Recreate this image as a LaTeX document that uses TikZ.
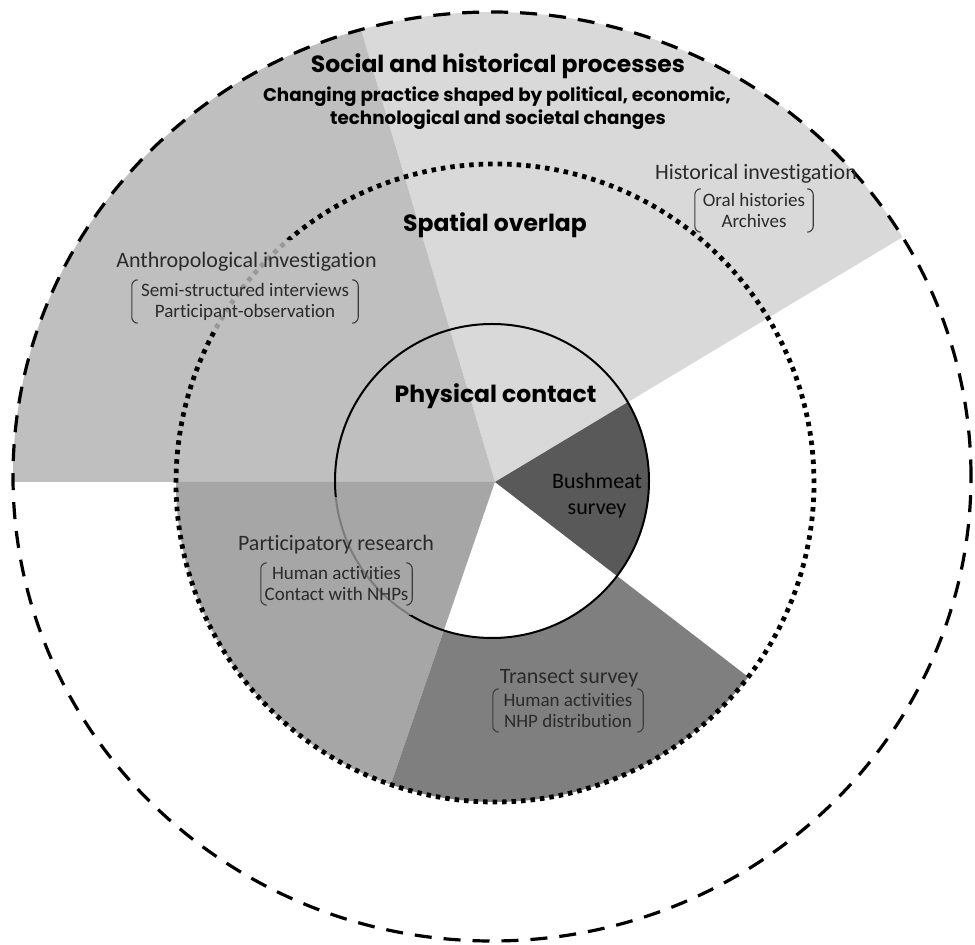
\documentclass[tikz,border=0pt]{standalone}
\usepackage{fontspec}
\setmainfont{Carlito}[Ligatures=NoCommon]
\newfontfamily\headfont{Poppins}
\definecolor{histc}{HTML}{D9D9D9}
\definecolor{anthc}{HTML}{BFBFBF}
\definecolor{partc}{HTML}{A6A6A6}
\definecolor{transc}{HTML}{7F7F7F}
\definecolor{bushc}{HTML}{595959}
\definecolor{labc}{HTML}{2A2A2A}
\definecolor{brkc}{HTML}{3C3C3C}
\newcommand\drawbrackets[1]{%
  \draw[brkline] ([xshift=6pt]#1.north west) to[out=180,in=90] ([yshift=-6pt]#1.north west)
     -- ([yshift=6pt]#1.south west) to[out=-90,in=180] ([xshift=6pt]#1.south west);
  \draw[brkline] ([xshift=-6pt]#1.north east) to[out=0,in=90] ([yshift=-6pt]#1.north east)
     -- ([yshift=6pt]#1.south east) to[out=-90,in=0] ([xshift=-6pt]#1.south east);}
\tikzset{
  headtxt/.style={font=\headfont\bfseries\fontsize{23.5}{28}\selectfont, text=black, inner sep=0pt},
  subtxt/.style={font=\headfont\bfseries\fontsize{18.3}{22}\selectfont, text=black, inner sep=0pt},
  labtxt/.style={font=\fontsize{22}{26}\selectfont, text=labc, inner sep=0pt},
  grptxt/.style={font=\fontsize{19}{21}\selectfont, text=labc, inner sep=0pt, align=center},
  brkline/.style={draw=brkc, line width=1.1pt},
  dotline/.style={draw=black, line width=4.8pt, dash pattern=on 4.5pt off 5pt},
  dashline/.style={draw=black, line width=3.2pt, dash pattern=on 17pt off 12pt},
  solidline/.style={draw=black, line width=2pt}
}
\begin{document}
\begin{tikzpicture}[x=1pt,y=1pt]
\useasboundingbox (0,0) rectangle (975,945);
\coordinate (C) at (495,463);
\coordinate (Ci) at (492,464);
\coordinate (Cd) at (495,462);
\coordinate (Co) at (492,468.5);
% outer wedges
\begin{scope}
  \clip (Co) ellipse [x radius=479, y radius=464.5];
  \fill[histc] (C) -- ++(31:900) arc[start angle=31, end angle=106.5, radius=900] -- cycle;
  \fill[anthc] (C) -- ++(106.5:900) arc[start angle=106.5, end angle=180, radius=900] -- cycle;
\end{scope}
% middle ring wedges
\begin{scope}
  \clip (Cd) circle [radius=319];
  \fill[partc] (C) -- ++(180:500) arc[start angle=180, end angle=251, radius=500] -- cycle;
  \fill[transc] (C) -- ++(251:500) arc[start angle=251, end angle=322.4, radius=500] -- cycle;
\end{scope}
% inner wedges
\begin{scope}
  \clip (Ci) circle [radius=157];
  \fill[white] (C) -- ++(251:300) arc[start angle=251, end angle=322.4, radius=300] -- cycle;
  \fill[bushc] (C) -- ++(-37.6:300) arc[start angle=-37.6, end angle=31, radius=300] -- cycle;
\end{scope}
% circles
\draw[dotline] (Cd) circle [radius=319];
\draw[solidline] (Ci) circle [radius=157];
\draw[dashline] (Co) ellipse [x radius=479, y radius=464.5];
% translucent label backgrounds
\fill[anthc, fill opacity=0.8] (113,615) rectangle (385,705);
\fill[partc, fill opacity=0.75] (228,330) rectangle (445,448);
% texts
\node[headtxt, anchor=base] (t1) at (498,872) {Social and historical processes};
\node[subtxt, anchor=base] (t2) at (497,843.3) {Changing practice shaped by political, economic,};
\node[subtxt, anchor=base] (t3) at (498,820) {technological and societal changes};
\node[headtxt, anchor=base] (so) at (495,713) {Spatial overlap};
\node[headtxt, anchor=base] (pc) at (495.5,542) {Physical contact};
\node[labtxt, anchor=base] (hi) at (756,765) {Historical investigation};
\node[grptxt, minimum width=118pt, minimum height=43pt] (hig) at (754,734.5) {Oral histories\\Archives};
\node[labtxt, anchor=base] (ai) at (246.5,677.7) {Anthropological investigation};
\node[grptxt, minimum width=226pt, minimum height=43pt] (aig) at (245,643.5) {Semi-structured interviews\\Participant-observation};
\node[labtxt, align=center, text=black] (bm) at (597,449) {Bushmeat\\survey};
\node[labtxt, anchor=base] (pr) at (336,394.3) {Participatory research};
\node[grptxt, minimum width=151pt, minimum height=42pt] (prg) at (336.5,361) {Human activities\\Contact with NHPs};
\node[labtxt, anchor=base] (ts) at (569,261.7) {Transect survey};
\node[grptxt, minimum width=150pt, minimum height=43pt] (tsg) at (568,234.5) {Human activities\\NHP distribution};
\drawbrackets{hig}
\drawbrackets{aig}
\drawbrackets{prg}
\drawbrackets{tsg}
\end{tikzpicture}
\end{document}
